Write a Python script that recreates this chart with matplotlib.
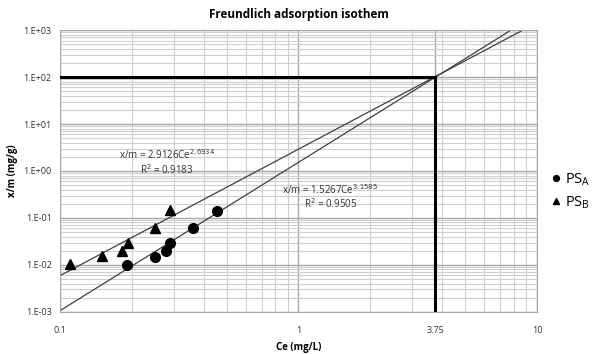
import numpy as np
import matplotlib
matplotlib.use("Agg")
import matplotlib.pyplot as plt
from matplotlib.ticker import LogLocator, NullFormatter, FixedLocator

plt.rcParams['font.family'] = ['Open Sans', 'DejaVu Sans']

# data
ce_a = [0.191, 0.250, 0.278, 0.289, 0.361, 0.455]
xm_a = [0.0100, 0.0150, 0.0200, 0.0300, 0.0600, 0.1400]
ce_b = [0.110, 0.150, 0.182, 0.193, 0.250, 0.289]
xm_b = [0.0105, 0.0155, 0.0200, 0.0300, 0.0600, 0.1500]

# fitted power laws x/m = k * Ce^n
fit_k = [2.9126, 1.5267]
fit_n = [2.6934, 3.1585]
fit_r2 = ["0.9183", "0.9505"]

ce_cross = 3.75
xm_cross = 100

x_ticks = [0.1, 1, 3.75, 10]
x_ticklabels = ["0.1", "1", "3.75", "10"]
y_ticks = [1e-3, 1e-2, 1e-1, 1e0, 1e1, 1e2, 1e3]
y_ticklabels = ["1.E-03", "1.E-02", "1.E-01", "1.E+00", "1.E+01", "1.E+02", "1.E+03"]

fig = plt.figure(figsize=(6.06, 3.54), dpi=100)
ax = fig.add_axes([0.099, 0.119, 0.787, 0.796])
ax.set_xscale('log')
ax.set_yscale('log')
ax.set_xlim(0.1, 10)
ax.set_ylim(1e-3, 1e3)

# grid
ax.xaxis.set_major_locator(FixedLocator([0.1, 1, 10]))
ax.xaxis.set_minor_locator(LogLocator(base=10, subs=np.arange(2, 10)))
ax.yaxis.set_major_locator(LogLocator(base=10))
ax.yaxis.set_minor_locator(LogLocator(base=10, subs=np.arange(2, 10)))
ax.xaxis.set_minor_formatter(NullFormatter())
ax.yaxis.set_minor_formatter(NullFormatter())
ax.grid(True, which='major', color='#a8a8a8', lw=1.0)
ax.grid(True, which='minor', color='#cfcfcf', lw=0.8)
ax.set_axisbelow(True)

# trend lines
for k, n in zip(fit_k, fit_n):
    xs = np.logspace(-1, 1, 200)
    ax.plot(xs, k * xs ** n, color='#404040', lw=0.9, zorder=2)

# thick guide lines at the crossing point
ax.plot([0.1, ce_cross], [xm_cross, xm_cross], color='black', lw=2.2, zorder=3)
ax.plot([ce_cross, ce_cross], [1e-3, xm_cross], color='black', lw=2.2, zorder=3)

ax.plot(ce_a, xm_a, 'o', color='black', ms=7, label=r'PS$_{\mathregular{A}}$', zorder=4)
ax.plot(ce_b, xm_b, '^', color='black', ms=7, label=r'PS$_{\mathregular{B}}$', zorder=4)

# equations
eq_style = dict(fontsize=7, ha='center', va='center', color='#333333')
ax.text(0.28, 2.2, "x/m = %.4fCe$^{%.4f}$" % (fit_k[0], fit_n[0]), **eq_style)
ax.text(0.28, 1.05, "R$^2$ = " + fit_r2[0], **eq_style)
ax.text(1.36, 0.40, "x/m = %.4fCe$^{%.4f}$" % (fit_k[1], fit_n[1]), **eq_style)
ax.text(1.36, 0.20, "R$^2$ = " + fit_r2[1], **eq_style)

ax.set_xticks(x_ticks)
ax.set_xticklabels(x_ticklabels)
ax.set_yticks(y_ticks)
ax.set_yticklabels(y_ticklabels)
ax.tick_params(which='both', length=0, labelsize=6.5, colors='#333333')
ax.tick_params(axis='x', pad=10)
ax.tick_params(axis='y', pad=6)
for s in ax.spines.values():
    s.set_color('#a8a8a8')

ax.set_title("Freundlich adsorption isothem", fontsize=8.5, fontweight='bold', pad=9)
ax.set_xlabel("Ce (mg/L)", fontsize=7, fontweight='bold', labelpad=5)
ax.set_ylabel("x/m (mg/g)", fontsize=7, fontweight='bold', labelpad=4)

ax.legend(loc='upper left', bbox_to_anchor=(1.01, 0.53), frameon=False,
          fontsize=10.5, handletextpad=0.2, handlelength=0.8, markerscale=0.6,
          labelspacing=0.4, borderaxespad=0.2)

fig.savefig("out.png", dpi=100)
